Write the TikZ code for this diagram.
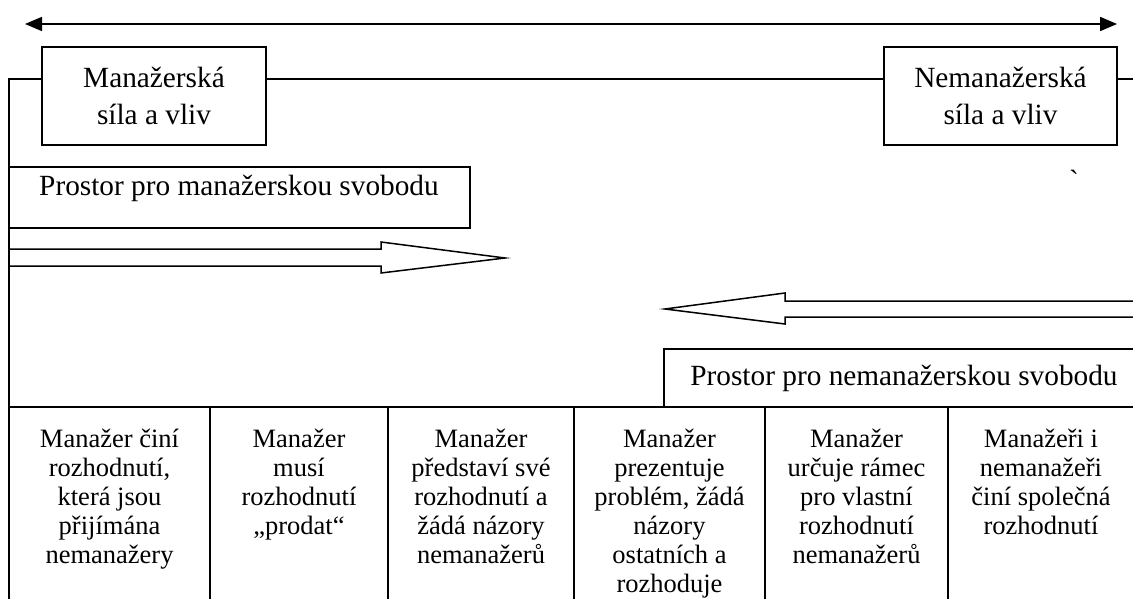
\documentclass[tikz,border=0pt]{standalone}
\usepackage{fontspec}
\setmainfont{Liberation Serif}
\usetikzlibrary{arrows.meta}
\begin{document}
\begin{tikzpicture}[x=1pt,y=-1pt,
  line width=1.5pt,
  bigbox/.style={draw, line width=1.8pt, inner sep=0pt, align=center,
    font=\fontsize{29.3}{37}\selectfont},
  plainbox/.style={draw, line width=1.5pt, inner sep=0pt},
  bigtext/.style={inner sep=0pt, anchor=base, font=\fontsize{29.3}{37}\selectfont},
  coltext/.style={inner sep=0pt, align=center, anchor=north,
    font=\fontsize{26.5}{29}\selectfont},
  hollow/.style={draw, line width=1.5pt, line join=miter},
  topline/.style={line width=1.8pt,
    {Triangle[length=17pt,width=14pt]}-{Triangle[length=17pt,width=14pt]}}]
\useasboundingbox (0,0) rectangle (1133,599);
\clip (0,0) rectangle (1133,599);

% top double arrow
\coordinate (tl) at (25,24);
\coordinate (tr) at (1117,24);
\draw[topline] (tl) -- (tr);

% power boxes
\node[bigbox, minimum width=224pt, minimum height=98pt] (lbox) at (154,96) {Manažerská\\síla a vliv};
\node[bigbox, minimum width=233pt, minimum height=98pt] (rbox) at (1000.5,96) {Nemanažerská\\síla a vliv};

\coordinate (corner) at (9,79);
\coordinate (bl) at (9,599);
\coordinate (rend) at (1140,79);
\draw (bl) -- (corner) -- (lbox.west |- corner);
\draw (lbox.east |- corner) -- (rbox.west |- corner);
\draw (rbox.east |- corner) -- (rend);

% stray mark
\node[bigtext] (mark) at (1074,190) {\textasciigrave};

% managerial freedom box
\node[plainbox, minimum width=461pt, minimum height=61pt] (mbox) at (239.5,197.5) {};
\node[bigtext] (mtext) at (239,195) {Prostor pro manažerskou svobodu};

% right-pointing hollow arrow
\draw[hollow] (9,249) -- (381,249) -- (381,242) -- (505,258) -- (381,273) -- (381,266) -- (9,266);

% left-pointing hollow arrow
\draw[hollow] (1140,301) -- (785,301) -- (785,293) -- (665,309) -- (785,324) -- (785,317) -- (1140,317);

% non-managerial freedom box
\draw (1140,349) -- (664,349) -- (664,407);
\node[bigtext] (ntext) at (904,385) {Prostor pro nemanažerskou svobodu};

% table
\coordinate (tabl) at (9,407);
\coordinate (tabr) at (1140,407);
\draw (tabl) -- (tabr);
\foreach \x in {210,388,574,765,948} {\draw (\x,407) -- (\x,600);}

\node[coltext] (c1) at (109.5,428) {Manažer činí\\rozhodnutí,\\která jsou\\přijímána\\nemanažery};
\node[coltext] (c2) at (299,428) {Manažer\\musí\\rozhodnutí\\„prodat“};
\node[coltext] (c3) at (481,428) {Manažer\\představí své\\rozhodnutí a\\žádá názory\\nemanažerů};
\node[coltext] (c4) at (669.5,428) {Manažer\\prezentuje\\problém, žádá\\názory\\ostatních a\\rozhoduje};
\node[coltext] (c5) at (856.5,428) {Manažer\\určuje rámec\\pro vlastní\\rozhodnutí\\nemanažerů};
\node[coltext] (c6) at (1041,428) {Manažeři i\\nemanažeři\\činí společná\\rozhodnutí};
\end{tikzpicture}
\end{document}
